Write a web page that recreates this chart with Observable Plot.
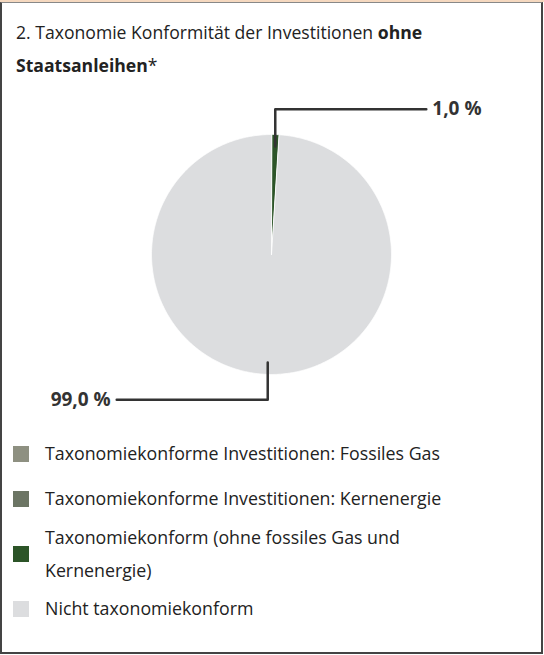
<!DOCTYPE html>
<html><head><meta charset="utf-8">
<script src="https://cdn.jsdelivr.net/npm/d3@7"></script>
<script src="https://cdn.jsdelivr.net/npm/@observablehq/plot@0.6"></script>
<style>
html,body{margin:0;padding:0;background:#fff;}
body{width:544px;height:655px;position:relative;overflow:hidden;font-family:"Open Sans",sans-serif;color:#222;}
#strip{position:absolute;left:0;top:0;width:544px;height:2px;background:#f5d8bf;}
#frame{position:absolute;left:0;top:2px;width:539px;height:649px;border-left:2px solid #444;border-right:2px solid #444;border-bottom:2px solid #444;border-top:1px solid #888;}
#title{position:absolute;left:16px;top:16px;width:460px;font-size:17.6px;line-height:33px;}
#title b{font-weight:700;}
#chart{position:absolute;left:0;top:90px;}
#legend{position:absolute;left:13px;top:437px;}
.item{display:flex;align-items:center;font-size:17.8px;line-height:33px;}
.sw{width:16px;height:16px;flex:none;margin-right:16px;}
.lt{width:420px;}
</style></head><body>
<div id="strip"></div>
<div id="frame"></div>
<div id="title">2. Taxonomie Konformität der Investitionen <b>ohne</b> <b>Staatsanleihen</b>*</div>
<div id="chart"></div>
<div id="legend"></div>
<script>
const categories = [
  "Taxonomiekonforme Investitionen: Fossiles Gas",
  "Taxonomiekonforme Investitionen: Kernenergie",
  "Taxonomiekonform (ohne fossiles Gas und Kernenergie)",
  "Nicht taxonomiekonform"
];
const values = [0, 0, 1.0, 99.0];
const valueLabels = ["0,0 %", "0,0 %", "1,0 %", "99,0 %"];
const colors = ["#8e9081", "#6c7564", "#2c5428", "#dcdddf"];

const rows = categories.map((c, i) => ({category: c, value: values[i], label: valueLabels[i]}));

const W = 544, H = 330, cx = 271, cy = 164, R = 120;
const arcs = d3.pie().sort(null).value(d => d.value)(rows);

// slice outlines in unit-radius coordinates
const slicePts = [];
for (const a of arcs) {
  if (a.endAngle - a.startAngle <= 0) continue;
  const n = Math.max(2, Math.ceil((a.endAngle - a.startAngle) / (Math.PI / 360)));
  slicePts.push({category: a.data.category, x: 0, y: 0});
  for (let k = 0; k <= n; k++) {
    const t = a.startAngle + (a.endAngle - a.startAngle) * k / n;
    slicePts.push({category: a.data.category, x: Math.sin(t), y: Math.cos(t)});
  }
}

// leader lines and labels
const rIn = 0.9, rOut = 1.21, reach = 1.29;
const leaders = [], labels = [];
for (const a of arcs) {
  if (a.endAngle - a.startAngle <= 0) continue;
  const m = (a.startAngle + a.endAngle) / 2;
  const side = Math.sin(m) >= 0 ? 1 : -1;
  const vs = Math.cos(m) >= 0 ? 1 : -1;
  const sx = Math.sin(m);
  const id = a.data.category;
  leaders.push({id, x: sx, y: Math.cos(m) * rIn});
  leaders.push({id, x: sx, y: vs * rOut});
  leaders.push({id, x: side * reach, y: vs * rOut});
  labels.push({x: side * (reach + 0.05), y: vs * rOut, text: a.data.label, anchor: side > 0 ? "start" : "end"});
}

const chart = Plot.plot({
  width: W, height: H,
  margin: 0,
  x: {domain: [-cx / R, (W - cx) / R], range: [0, W], axis: null},
  y: {domain: [-(H - cy) / R, cy / R], range: [H, 0], axis: null},
  color: {domain: categories, range: colors},
  style: {background: "transparent", fontFamily: "'Open Sans', sans-serif"},
  marks: [
    Plot.line(slicePts, {x: "x", y: "y", z: "category", fill: "category", stroke: "white", strokeWidth: 0.8, curve: "linear-closed"}),
    Plot.line(leaders, {x: "x", y: "y", z: "id", stroke: "#333", strokeWidth: 2.5}),
    Plot.text(labels.filter(d => d.anchor === "start"), {x: "x", y: "y", text: "text", textAnchor: "start", fontWeight: "bold", fontSize: 19, fill: "#333", lineAnchor: "middle"}),
    Plot.text(labels.filter(d => d.anchor === "end"), {x: "x", y: "y", text: "text", textAnchor: "end", fontWeight: "bold", fontSize: 19, fill: "#333", lineAnchor: "middle"})
  ]
});
document.getElementById("chart").appendChild(chart);

const gaps = [0, 12, 5.5, 5.5];
const legend = document.getElementById("legend");
categories.forEach((c, i) => {
  const it = document.createElement("div");
  it.className = "item";
  it.style.marginTop = gaps[i] + "px";
  const sw = document.createElement("div");
  sw.className = "sw";
  sw.style.background = colors[i];
  const lt = document.createElement("div");
  lt.className = "lt";
  lt.textContent = c;
  it.appendChild(sw); it.appendChild(lt);
  legend.appendChild(it);
});
</script>
</body></html>
